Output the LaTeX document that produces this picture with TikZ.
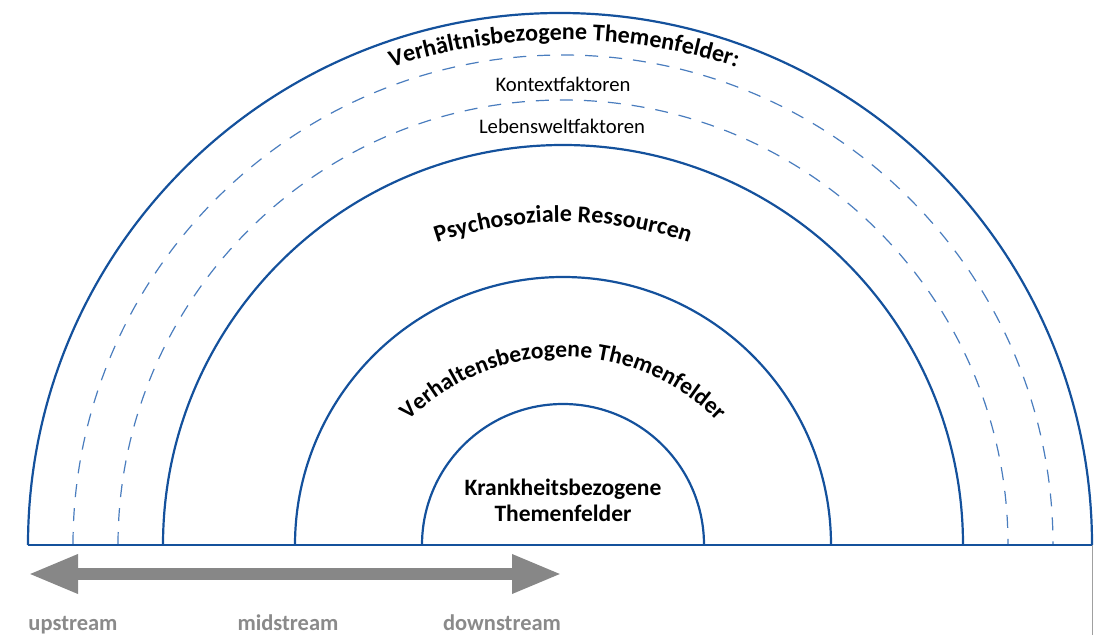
\documentclass[tikz,border=0pt]{standalone}
\usepackage{fontspec}
\setmainfont{Carlito}
\usetikzlibrary{decorations.text,arrows.meta}
\definecolor{ringblue}{HTML}{14519C}
\definecolor{dashblue}{HTML}{4A7DBE}
\definecolor{arrowgray}{HTML}{878787}
\definecolor{labelgray}{HTML}{8A8A8A}
\definecolor{edgegray}{HTML}{A0A0A0}
\begin{document}
\begin{tikzpicture}[x=1pt,y=1pt,
  ring/.style={draw=ringblue,line width=2.2pt},
  dashring/.style={draw=dashblue,line width=1.2pt,dash pattern=on 13pt off 11pt},
  bigarrow/.style={draw=arrowgray,line width=12pt,{Triangle[length=50pt,width=36pt]}-{Triangle[length=50pt,width=36pt]}},
  streamlabel/.style={font=\bfseries\fontsize{22.5}{22.5}\selectfont,text=labelgray,anchor=base,inner sep=0pt},
  plainlabel/.style={font=\fontsize{20.7}{20.7}\selectfont,anchor=base,inner sep=0pt},
  curvetext/.style={decorate,decoration={text along path,text align=center,text={|\bfseries\fontsize{24}{24}\selectfont|#1}}}
]
\useasboundingbox (0,0) rectangle (1097,635);
\coordinate (Oo) at (560,90);
\coordinate (O) at (563,90);
% rings
\draw[ring] ([shift={(180:532)}]Oo) arc[start angle=180,end angle=0,radius=532];
\draw[dashring] ([shift={(180:490)}]O) arc[start angle=180,end angle=0,radius=490];
\draw[dashring] ([shift={(180:445)}]O) arc[start angle=180,end angle=0,radius=445];
\draw[ring] ([shift={(180:400)}]O) arc[start angle=180,end angle=0,radius=400];
\draw[ring] ([shift={(180:268)}]O) arc[start angle=180,end angle=0,radius=268];
\draw[ring] ([shift={(180:141)}]O) arc[start angle=180,end angle=0,radius=141];
% baseline and edge
\coordinate (bl) at (28,90);
\coordinate (br) at (1092,90);
\coordinate (bb) at (1092,0);
\draw[ring] (bl) -- (br);
\draw[draw=edgegray,line width=1pt] (br) -- (bb);
% curved texts
\coordinate (C1) at (564,35);
\path[curvetext={Verhältnisbezogene Themenfelder:}] ([shift={(150:560)}]C1) arc[start angle=150,end angle=30,radius=560];
\coordinate (C2) at (563,18);
\path[curvetext={Psychosoziale Ressourcen}] ([shift={(140:395)}]C2) arc[start angle=140,end angle=40,radius=395];
\coordinate (C3) at (563,60);
\path[decorate,decoration={text along path,text align=center,text={|\bfseries\fontsize{23.5}{23.5}\selectfont|Verhaltensbezogene Themenfelder}}] ([shift={(170:218)}]C3) arc[start angle=170,end angle=10,radius=218];
% straight texts
\node[plainlabel] (kf) at (563,543) {Kontextfaktoren};
\node[plainlabel] (lf) at (562,501) {Lebensweltfaktoren};
\node[font=\bfseries\fontsize{23.5}{26}\selectfont,align=center,inner sep=0pt] (kt) at (563,135) {Krankheitsbezogene\\Themenfelder};
% arrow
\coordinate (al) at (28,61);
\coordinate (ar) at (562,61);
\draw[bigarrow] (al) -- (ar);
\node[streamlabel] (up) at (73,5) {upstream};
\node[streamlabel] (mid) at (288,5) {midstream};
\node[streamlabel] (down) at (502,5) {downstream};
\end{tikzpicture}
\end{document}
